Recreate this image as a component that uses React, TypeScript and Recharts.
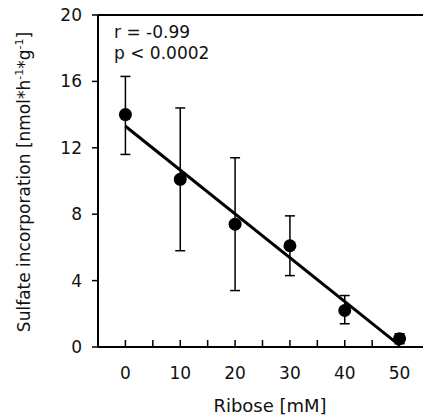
import {
  ComposedChart, Scatter, Line, XAxis, YAxis, ErrorBar, ReferenceLine
} from 'recharts';

const ribose = [0, 10, 20, 30, 40, 50];
const sulfateMean = [14.0, 10.1, 7.4, 6.1, 2.2, 0.5];
const sulfateUpper = [16.3, 14.4, 11.4, 7.9, 3.1, 0.8];
const sulfateLower = [11.6, 5.8, 3.4, 4.3, 1.4, 0.2];

const fitX = [0, 50];
const fitY = [13.3, 0.1];

const xTicks = [0, 5, 10, 15, 20, 25, 30, 35, 40, 45, 50];
const yTicks = [0, 4, 8, 12, 16, 20];

const points = ribose.map((x, i) => ({
  x,
  y: sulfateMean[i],
  err: [sulfateMean[i] - sulfateLower[i], sulfateUpper[i] - sulfateMean[i]],
}));
const fit = fitX.map((x, i) => ({ x, fit: fitY[i] }));

const FONT = '"DejaVu Sans", sans-serif';

function XTick({ x, y, payload }: any) {
  return (
    <g>
      <line x1={x} x2={x} y1={y} y2={y - 7} stroke="#000" strokeWidth={1.5} />
      {payload.value % 10 === 0 && (
        <text x={x} y={y + 32} textAnchor="middle" fontSize={17} fontFamily={FONT} fill="#111">
          {payload.value}
        </text>
      )}
    </g>
  );
}

function Dot({ cx, cy }: any) {
  return <circle cx={cx} cy={cy} r={6.5} fill="#000" />;
}

// y title plus the r / p annotation in the corner
function YTitle() {
  return (
    <g fontFamily={FONT} fill="#111">
      <text transform="translate(30,182) rotate(-90)" textAnchor="middle" fontSize={17}>
        Sulfate incorporation [nmol*h
        <tspan fontSize={11} dy={-7}>-1</tspan>
        <tspan dy={7}>*g</tspan>
        <tspan fontSize={11} dy={-7}>-1</tspan>
        <tspan dy={7}>]</tspan>
      </text>
      <text x={114} y={38} fontSize={17}>r = -0.99</text>
      <text x={114} y={59} fontSize={17}>p &lt; 0.0002</text>
    </g>
  );
}

function XTitle() {
  return (
    <text x={270} y={412} textAnchor="middle" fontSize={18} fontFamily={FONT} fill="#111">
      Ribose [mM]
    </text>
  );
}

export default function App() {
  return (
    <div style={{ position: 'absolute', left: 0, top: 0, width: 423, height: 418, overflow: 'hidden', background: '#fff' }}>
      <ComposedChart width={448} height={418} margin={{ top: 15, right: 21, left: 0, bottom: 0 }}>
        <XAxis
          type="number"
          dataKey="x"
          domain={[-5, 55]}
          ticks={xTicks}
          interval={0}
          allowDataOverflow
          height={71}
          axisLine={{ stroke: '#000', strokeWidth: 2 }}
          tickLine={false}
          tickSize={0}
          tickMargin={0}
          tick={<XTick />}
          label={<XTitle />}
        />
        <YAxis
          type="number"
          domain={[0, 20]}
          ticks={yTicks}
          interval={0}
          allowDataOverflow
          width={98}
          axisLine={{ stroke: '#000', strokeWidth: 2 }}
          tickLine={{ stroke: '#000', strokeWidth: 1.5 }}
          tickSize={6}
          tickMargin={10}
          tick={{ fill: '#111', fontSize: 17, fontFamily: FONT }}
          label={<YTitle />}
        />
        <ReferenceLine y={20} stroke="#000" strokeWidth={2} ifOverflow="visible" />
        <Line
          data={fit}
          dataKey="fit"
          type="linear"
          stroke="#000"
          strokeWidth={3}
          dot={false}
          isAnimationActive={false}
        />
        <Scatter data={points} dataKey="y" shape={<Dot />} isAnimationActive={false}>
          <ErrorBar dataKey="err" direction="y" width={5} stroke="#000" strokeWidth={1.5} />
        </Scatter>
      </ComposedChart>
    </div>
  );
}
